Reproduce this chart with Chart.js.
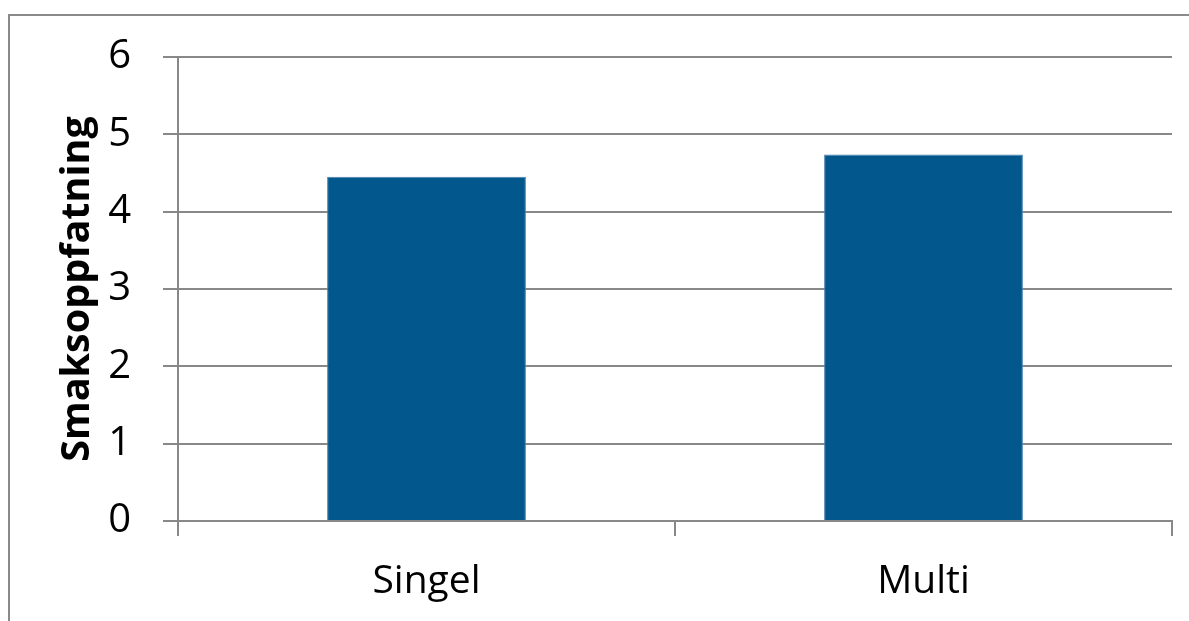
<!DOCTYPE html>
<html>
<head>
<meta charset="utf-8">
<script src="https://cdn.jsdelivr.net/npm/chart.js@4/dist/chart.umd.min.js"></script>
<style>
  html, body { margin: 0; padding: 0; background: #fff; overflow: hidden; }
  #wrap { position: relative; width: 1189px; height: 621px; }
  #frame { position: absolute; left: 8px; top: 14px; width: 1300px; height: 700px;
           border-left: 2px solid #8a8a8a; border-top: 2px solid #8a8a8a; }
  canvas { position: absolute; left: 0; top: 0; }
</style>
</head>
<body>
<div id="wrap">
  <div id="frame"></div>
  <canvas id="c" width="1189" height="621"></canvas>
</div>
<script>
const categories = ['Singel', 'Multi'];
const values = [4.45, 4.74];
const yTicks = [0, 1, 2, 3, 4, 5, 6];
const yTitle = 'Smaksoppfatning';

const FONT = "'Open Sans', 'DejaVu Sans', sans-serif";
const GRID = '#888888';

new Chart(document.getElementById('c'), {
  type: 'bar',
  data: {
    labels: categories,
    datasets: [{
      data: values,
      backgroundColor: '#02588C',
      borderColor: '#4A80AE',
      borderWidth: 1,
      barPercentage: 0.4,
      categoryPercentage: 1.0
    }]
  },
  options: {
    responsive: false,
    animation: false,
    devicePixelRatio: 1,
    layout: { padding: { top: 57, right: 17, left: 0, bottom: 0 } },
    plugins: { legend: { display: false }, tooltip: { enabled: false } },
    scales: {
      y: {
        min: yTicks[0],
        max: yTicks[yTicks.length - 1],
        afterBuildTicks: (s) => { s.ticks = yTicks.map(v => ({ value: v })); },
        afterFit: (s) => { s.width = 178; },
        ticks: { color: '#000', padding: 32, font: { family: FONT, size: 40, lineHeight: 1.2 } },
        grid: { color: GRID, lineWidth: 2, tickLength: 15 },
        border: { color: GRID, width: 2 },
        title: {
          display: true,
          text: yTitle,
          color: '#000',
          font: { family: FONT, size: 39.5, weight: 'bold', lineHeight: 1.2 },
          padding: { top: 54, bottom: 0 }
        }
      },
      x: {
        afterFit: (s) => { s.height = 100; },
        ticks: { color: '#000', padding: 22, font: { family: FONT, size: 39, lineHeight: 1.2 } },
        grid: { display: true, drawOnChartArea: false, drawTicks: true, tickLength: 15, color: GRID, lineWidth: 2, offset: true },
        border: { color: GRID, width: 2 }
      }
    }
  }
});
</script>
</body>
</html>
